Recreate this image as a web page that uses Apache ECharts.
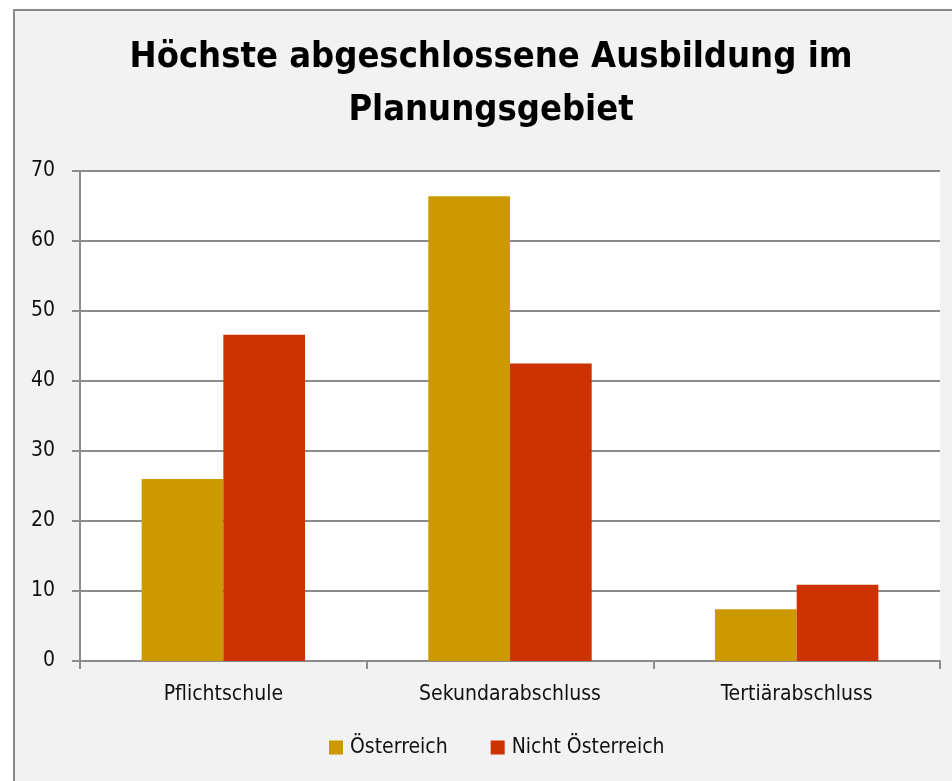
<!DOCTYPE html>
<html>
<head>
<meta charset="utf-8">
<style>
  html, body { margin: 0; padding: 0; background: #ffffff; }
  #chart { width: 952px; height: 781px; }
</style>
<script src="https://cdn.jsdelivr.net/npm/echarts@6/dist/echarts.min.js"></script>
</head>
<body>
<div id="chart"></div>
<script>
// Highest completed education, by citizenship (%)
const categories = ['Pflichtschule', 'Sekundarabschluss', 'Tertiärabschluss'];
const seriesNames = ['Österreich', 'Nicht Österreich'];
const oesterreich = [26.0, 66.4, 7.4];
const nichtOesterreich = [46.6, 42.5, 10.9];
const yTicks = [0, 10, 20, 30, 40, 50, 60, 70];

const FONT = '"DejaVu Sans Condensed", "Liberation Sans Narrow", sans-serif';
const GRID_COLOR = '#8c8c8c';

const chart = echarts.init(document.getElementById('chart'), null, { renderer: 'canvas' });

chart.setOption({
  backgroundColor: '#ffffff',
  animation: false,
  graphic: [
    {
      type: 'rect',
      z: -10,
      silent: true,
      shape: { x: 14, y: 10, width: 960, height: 800 },
      style: { fill: '#f2f2f2', stroke: '#8a8a8a', lineWidth: 2 }
    },
    {
      // chart title, centred on the framed panel
      type: 'text',
      x: 491,
      y: 31,
      silent: true,
      style: {
        text: 'Höchste abgeschlossene Ausbildung im\nPlanungsgebiet',
        x: 0,
        y: 0,
        align: 'center',
        verticalAlign: 'top',
        fontFamily: FONT,
        fontWeight: 'bold',
        fontSize: 36,
        lineHeight: 53,
        fill: '#000000'
      }
    }
  ],
  legend: {
    data: seriesNames,
    bottom: 23,
    left: 329,
    padding: 0,
    itemWidth: 14,
    itemHeight: 14,
    itemGap: 43,
    icon: 'rect',
    textStyle: { fontFamily: FONT, fontSize: 21, color: '#111111', padding: [0, 0, 0, 2] }
  },
  grid: {
    left: 80,
    right: 12,
    top: 171,
    bottom: 120,
    show: true,
    backgroundColor: '#ffffff',
    borderWidth: 0
  },
  xAxis: {
    type: 'category',
    data: categories,
    axisLine: { lineStyle: { color: GRID_COLOR, width: 2 } },
    axisTick: { show: true, alignWithLabel: false, length: 8, lineStyle: { color: GRID_COLOR, width: 2 } },
    axisLabel: { fontFamily: FONT, fontSize: 21, color: '#111111', margin: 23 }
  },
  yAxis: {
    type: 'value',
    min: 0,
    max: 70,
    interval: 10,
    axisLine: { show: true, lineStyle: { color: GRID_COLOR, width: 2 } },
    axisTick: { show: true, length: 8, lineStyle: { color: GRID_COLOR, width: 2 } },
    splitLine: { lineStyle: { color: GRID_COLOR, width: 2 } },
    axisLabel: {
      fontFamily: FONT, fontSize: 21, color: '#111111', margin: 25,
      padding: [6, 0, 0, 0],
      formatter: v => (yTicks.includes(v) ? String(v) : '')
    }
  },
  series: [
    {
      name: seriesNames[0],
      type: 'bar',
      data: oesterreich,
      barGap: '0%',
      barCategoryGap: '43%',
      itemStyle: { color: '#cc9900' }
    },
    {
      name: seriesNames[1],
      type: 'bar',
      data: nichtOesterreich,
      barGap: '0%',
      barCategoryGap: '43%',
      itemStyle: { color: '#cc3300' }
    }
  ]
});
</script>
</body>
</html>
